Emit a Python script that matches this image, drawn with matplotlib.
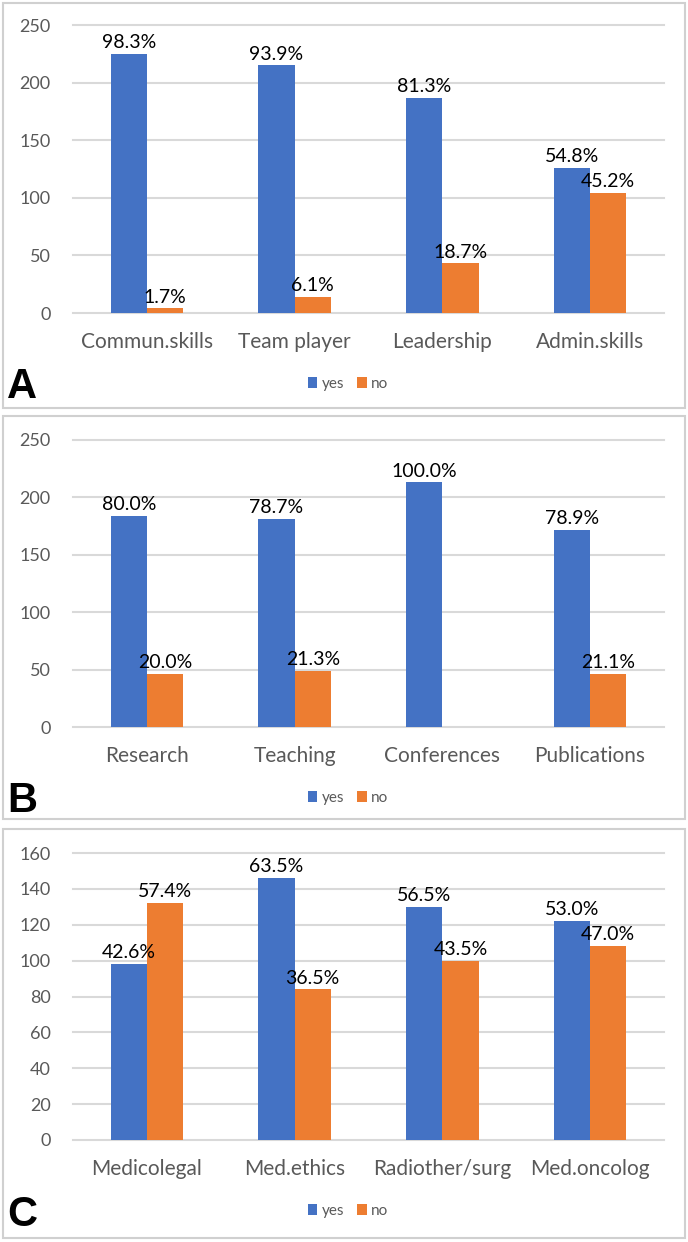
import matplotlib
matplotlib.use("Agg")
import matplotlib.pyplot as plt
from matplotlib.patches import Rectangle

plt.rcParams['font.family'] = ['Lato', 'DejaVu Sans']

# Data
cats_a = ["Commun.skills", "Team player", "Leadership", "Admin.skills"]
yes_a = [225, 215, 187, 126]
no_a = [4, 14, 43, 104]
lab_yes_a = ["98.3%", "93.9%", "81.3%", "54.8%"]
lab_no_a = ["1.7%", "6.1%", "18.7%", "45.2%"]

cats_b = ["Research", "Teaching", "Conferences", "Publications"]
yes_b = [184, 181, 213, 172]
no_b = [46, 49, 0, 46]
lab_yes_b = ["80.0%", "78.7%", "100.0%", "78.9%"]
lab_no_b = ["20.0%", "21.3%", "", "21.1%"]

cats_c = ["Medicolegal", "Med.ethics", "Radiother/surg", "Med.oncolog"]
yes_c = [98, 146, 130, 122]
no_c = [132, 84, 100, 108]
lab_yes_c = ["42.6%", "63.5%", "56.5%", "53.0%"]
lab_no_c = ["57.4%", "36.5%", "43.5%", "47.0%"]

panels = [
    ("A", cats_a, yes_a, no_a, lab_yes_a, lab_no_a, 250, 50),
    ("B", cats_b, yes_b, no_b, lab_yes_b, lab_no_b, 250, 50),
    ("C", cats_c, yes_c, no_c, lab_yes_c, lab_no_c, 160, 20),
]

W, H = 688, 1242
fig = plt.figure(figsize=(W / 100, H / 100), dpi=100)

BLUE = "#4472C4"
ORANGE = "#ED7D31"
GRID = "#D9D9D9"
TICK = "#595959"

# pixel geometry per panel: (axes top, axes bottom, box top, box bottom, legend y, letter baseline)
geom = [
    (25, 313, 3, 408, 384, 398),
    (440, 727, 416, 819, 798, 812),
    (853, 1140, 829, 1238, 1211, 1226),
]
ax_left, ax_right = 73, 664
bw = 0.245

for (letter, cats, yes, no, ly, ln, ymax, step), (at, ab, bt, bb, legy, letb) in zip(panels, geom):
    # panel border
    fig.patches.append(Rectangle((3 / W, 1 - bb / H), (685 - 3) / W, (bb - bt) / H,
                                 transform=fig.transFigure, fill=False,
                                 edgecolor="#D0D0D0", linewidth=1.5))
    ax = fig.add_axes([ax_left / W, 1 - ab / H, (ax_right - ax_left) / W, (ab - at) / H])
    x = list(range(len(cats)))
    b1 = ax.bar([i - bw / 2 for i in x], yes, width=bw, color=BLUE, label="yes", zorder=3)
    b2 = ax.bar([i + bw / 2 for i in x], no, width=bw, color=ORANGE, label="no", zorder=3)
    for rect, t in zip(b1, ly):
        if t:
            ax.annotate(t, (rect.get_x() + rect.get_width() / 2, rect.get_height()),
                        xytext=(0, 2), textcoords="offset points", ha="center", va="bottom",
                        fontsize=14, color="black")
    for rect, t in zip(b2, ln):
        if t:
            ax.annotate(t, (rect.get_x() + rect.get_width() / 2, rect.get_height()),
                        xytext=(0, 2), textcoords="offset points", ha="center", va="bottom",
                        fontsize=14, color="black")
    ax.set_xlim(-0.5, len(cats) - 0.5)
    ax.set_ylim(0, ymax)
    ax.set_yticks(list(range(0, ymax + 1, step)))
    ax.set_xticks(x)
    ax.set_xticklabels(cats)
    ax.tick_params(axis="both", length=0, labelsize=13, labelcolor=TICK)
    ax.tick_params(axis="x", pad=14, labelsize=15)
    ax.tick_params(axis="y", pad=16)
    for s in ax.spines.values():
        s.set_visible(False)
    ax.yaxis.grid(True, color=GRID, linewidth=1.5, zorder=0)
    ax.set_axisbelow(True)
    for gl in ax.get_ygridlines():
        gl.set_clip_on(False)
    fig.legend(handles=[b1, b2], labels=["yes", "no"], loc="center",
               bbox_to_anchor=(348 / W, 1 - legy / H), ncol=2, frameon=False,
               fontsize=11, handlelength=0.65, handleheight=0.7, handletextpad=0.3,
               columnspacing=0.8, labelcolor=TICK)
    fig.text(7 / W, 1 - letb / H, letter, fontsize=30, fontweight="bold",
             family="Liberation Sans", ha="left", va="baseline", color="black")

fig.savefig("out.png", dpi=100)
